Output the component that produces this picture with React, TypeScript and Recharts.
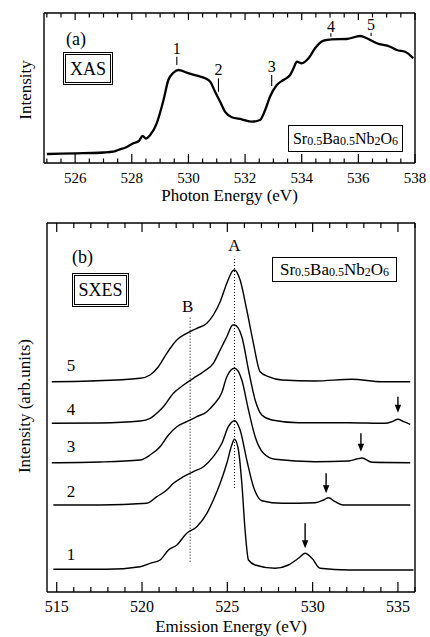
import React from 'react';
import { LineChart, Line, XAxis, YAxis, ReferenceLine, ReferenceDot } from 'recharts';

const FONT = "'Liberation Serif', 'Times New Roman', serif";

// ---- (a) XAS ----
const XAS_E = [
  525.0, 525.5, 526.06, 526.6, 527.0, 527.34, 527.52, 527.84, 528.05, 528.25, 528.38, 528.5, 528.65,
  528.88, 529.12, 529.29, 529.47, 529.65, 529.94, 530.3, 530.59, 530.77, 530.94, 531.12, 531.29,
  531.53, 531.88, 532.24, 532.53, 532.71, 532.88, 533.12, 533.35, 533.59, 533.71, 533.83, 534.0,
  534.24, 534.47, 534.77, 535.06, 535.59, 536.06, 536.3, 536.65, 537.12, 537.36, 537.65, 537.94,
];
const XAS_I = [
  9, 9.3, 9.7, 10, 10.5, 11.3, 13, 16.3, 19.7, 22, 27, 24.5, 28,
  39.7, 63, 83, 90.3, 93, 90.3, 87.3, 84.7, 81.3, 71.3, 61.3, 51.3,
  45.7, 43.7, 41.3, 43, 53, 66.3, 78, 83, 88, 94.7, 101.3, 99.7,
  104.7, 114.7, 122.3, 123.7, 124, 127, 124.7, 119.7, 116.3, 113, 111.3, 104.7,
];
const XAS_TICKS = [
  525, 525.5, 526, 526.5, 527, 527.5, 528, 528.5, 529, 529.5, 530, 530.5, 531, 531.5,
  532, 532.5, 533, 533.5, 534, 534.5, 535, 535.5, 536, 536.5, 537, 537.5, 538,
];
const XAS_MAJOR = [526, 528, 530, 532, 534, 536, 538];
// peak markers: label, energy, tick bottom/top, label centre
const MARK_LABEL = ['1', '2', '3', '4', '5'];
const MARK_E = [529.59, 531.06, 532.94, 535.03, 536.45];
const MARK_LO = [98, 71.3, 77, 126.3, 127];
const MARK_HI = [106.3, 84.7, 88, 129.7, 130.3];
const MARK_TXT = [114.7, 93.7, 96.3, 136.3, 139];

// ---- (b) SXES ----
const SX_TICKS = [515, 516, 517, 518, 519, 520, 521, 522, 523, 524, 525, 526, 527, 528, 529, 530, 531, 532, 533, 534, 535, 536];
const SX_MAJOR = [515, 520, 525, 530, 535];

const SX1_E = [514.8, 517.93, 519.89, 520.47, 521.06, 521.55, 522.04, 522.62, 523.21, 523.8, 524.18, 524.58, 524.97, 525.26, 525.42, 525.65, 525.85, 526.04, 526.24, 526.63, 527.8, 528.58, 529.17, 529.56, 529.96, 530.44, 532.1, 535.91];
const SX1_I = [22.7, 22.7, 25.3, 28.7, 32, 42, 47, 58.7, 65.3, 78.7, 92, 108.7, 128.7, 147, 152.7, 142, 108.7, 62, 32, 27, 23.7, 27, 33.7, 38.7, 33.7, 23.7, 22, 22];

const SX2_E = [514.8, 517.54, 520.28, 520.87, 521.45, 521.84, 522.43, 523.01, 523.6, 524.18, 524.68, 525.06, 525.42, 525.75, 526.14, 526.53, 527.02, 528.2, 530.15, 530.64, 530.93, 531.32, 531.81, 535.72];
const SX2_I = [87, 87, 88.7, 95.3, 102, 108.7, 115.3, 120.3, 125.3, 135.3, 148.7, 165.3, 171.3, 162, 132, 105.3, 91.3, 88.7, 89.3, 92, 94.3, 90.3, 87, 87];

const SX3_E = [514.71, 517.54, 519.89, 520.47, 521.06, 521.55, 522.04, 522.62, 523.21, 523.8, 524.18, 524.68, 524.97, 525.42, 525.85, 526.24, 526.63, 527.12, 527.8, 530.15, 532.1, 532.59, 532.89, 533.48, 535.72];
const SX3_I = [129.3, 130, 132, 137, 145.3, 157, 165.3, 170.3, 175.3, 180.3, 187, 199.5, 215.3, 223.7, 212, 182, 155.3, 138.7, 132.7, 130.3, 131, 133, 134, 129.7, 129.3];

const SX4_E = [514.71, 517.54, 519.89, 520.47, 520.96, 521.25, 521.84, 522.43, 523.01, 523.6, 524.18, 524.58, 524.97, 525.32, 525.42, 525.85, 526.24, 526.63, 527.02, 527.61, 529.17, 532.1, 534.26, 534.65, 535.0, 535.33, 535.72];
const SX4_I = [168.7, 169, 171, 173.7, 180.3, 185.3, 198.7, 207, 213.7, 220.3, 228.7, 242, 255.3, 267, 267, 255.3, 222, 192, 177, 172, 169.3, 169.3, 168.7, 170.3, 172.7, 170.3, 167.7];

const SX5_E = [514.71, 516.95, 519.89, 520.47, 520.96, 521.45, 522.04, 522.62, 523.21, 523.8, 524.18, 524.58, 524.97, 525.32, 525.42, 525.75, 526.14, 526.53, 526.92, 527.41, 528.2, 530.15, 532.3, 534.06, 535.72];
const SX5_I = [210.3, 211, 213.7, 217, 225.3, 238.7, 252, 258.7, 263.7, 268.7, 277, 290.3, 308.7, 321.3, 322, 312, 282, 248.7, 220.3, 215.3, 212, 211, 212.7, 210.3, 210.3];

const SX_LABEL = ['1', '2', '3', '4', '5'];
const SX_LABEL_E = 515.84;
const SX_LABEL_Y = [38, 101, 146, 183, 226.2];

// arrows on curves 1-4
const ARROW_E = [529.56, 530.79, 532.83, 535.0];
const ARROW_TOP = [68.7, 118.7, 158.7, 195.3];
const ARROW_TIP = [43.7, 98.7, 140.3, 179.3];

// dotted guides A and B
const GUIDE_LABEL = ['A', 'B'];
const GUIDE_E = [525.42, 522.82];
const GUIDE_TOP = [335.3, 275.3];
const GUIDE_BOT = [104, 30.3];
const GUIDE_TXT_E = [525.42, 522.68];
const GUIDE_TXT_Y = [347, 286];

const zip = (es: number[], is: number[]) => es.map((e, k) => ({ e, i: is[k] }));

const makeTick = (majors: number[], side: 'top' | 'bottom', majLen: number, minLen: number, fontSize: number, dy: number) =>
  (props: any) => {
    const { x, y, payload } = props;
    const major = majors.includes(payload.value);
    const len = major ? majLen : minLen;
    const dir = side === 'bottom' ? -1 : 1;
    return (
      <g>
        <line x1={x} x2={x} y1={y} y2={y + dir * len} stroke="#000" strokeWidth={1.2} />
        {side === 'bottom' && major ? (
          <text x={x} y={y + dy} textAnchor="middle" fontSize={fontSize} fontFamily={FONT} fill="#000">
            {payload.value}
          </text>
        ) : null}
      </g>
    );
  };

const textShape = (txt: string, size: number) => (p: any) => (
  <text x={p.cx} y={p.cy} textAnchor="middle" dominantBaseline="central" fontSize={size} fontFamily={FONT} fill="#000">
    {txt}
  </text>
);

const arrowHead = (p: any) => (
  <polygon points={`${p.cx},${p.cy} ${p.cx - 3.2},${p.cy - 8} ${p.cx + 3.2},${p.cy - 8}`} fill="#000" />
);

const Formula: React.FC = () => {
  const sub = { fontSize: 12, position: 'relative' as const, top: 1 };
  return (
    <span>
      Sr<span style={sub}>0.5</span>Ba<span style={sub}>0.5</span>Nb<span style={sub}>2</span>O<span style={sub}>6</span>
    </span>
  );
};

const abs = (left: number, top: number, extra: React.CSSProperties = {}): React.CSSProperties => ({
  position: 'absolute', left, top, fontFamily: FONT, color: '#000', lineHeight: 1, whiteSpace: 'nowrap', ...extra,
});

const frame = { stroke: '#000', strokeWidth: 1.4 };

export default function App() {
  const xas = zip(XAS_E, XAS_I);
  const sx = [zip(SX1_E, SX1_I), zip(SX2_E, SX2_I), zip(SX3_E, SX3_I), zip(SX4_E, SX4_I), zip(SX5_E, SX5_I)];

  // axes need a non-zero thickness to be drawn; the 1px is taken out of the margins
  return (
    <div style={{ position: 'relative', width: 430, height: 637, background: '#fff', overflow: 'hidden' }}>
      <style>{'body{margin:0}'}</style>

      {/* (a) XAS */}
      <div style={{ position: 'absolute', left: 0, top: 0 }}>
        <LineChart width={430} height={210} margin={{ top: 12, right: 14, bottom: 46, left: 43 }}>
          <XAxis dataKey="e" type="number" domain={[524.9, 538]} allowDataOverflow ticks={XAS_TICKS} interval={0}
            height={1} tickSize={0} tickMargin={0} tickLine={false} axisLine={frame}
            tick={makeTick(XAS_MAJOR, 'bottom', 9, 4.5, 15, 19.5)} />
          <XAxis xAxisId="top" orientation="top" dataKey="e" type="number" domain={[524.9, 538]} allowDataOverflow
            ticks={XAS_TICKS} interval={0} height={1} tickSize={0} tickMargin={0} tickLine={false} axisLine={frame}
            tick={makeTick(XAS_MAJOR, 'top', 7, 4.5, 15, 0)} />
          <YAxis type="number" domain={[0, 150]} width={1} tick={false} tickLine={false} axisLine={frame} />
          <YAxis yAxisId="r" orientation="right" type="number" domain={[0, 150]} width={1} tick={false} tickLine={false} axisLine={frame} />
          <Line data={xas} dataKey="i" type="monotone" stroke="#000" strokeWidth={2.3} dot={false} isAnimationActive={false} />
          {MARK_E.map((e, k) => (
            <ReferenceLine key={`m${k}`} segment={[{ x: e, y: MARK_LO[k] }, { x: e, y: MARK_HI[k] }]} stroke="#000" strokeWidth={1.1} />
          ))}
          {MARK_E.map((e, k) => (
            <ReferenceDot key={`t${k}`} x={e} y={MARK_TXT[k]} r={0} shape={textShape(MARK_LABEL[k], 16)} />
          ))}
        </LineChart>
      </div>
      <div style={abs(66, 30, { fontSize: 18 })}>(a)</div>
      <div style={abs(63, 52, { width: 50, height: 33, border: '3px double #000', boxSizing: 'border-box', fontSize: 18, display: 'flex', alignItems: 'center', justifyContent: 'center' })}>XAS</div>
      <div style={abs(288, 125, { width: 115, height: 27, border: '1px solid #000', boxSizing: 'border-box', fontSize: 16, display: 'flex', alignItems: 'center', justifyContent: 'center' })}><Formula /></div>
      <div style={abs(229.5, 195, { fontSize: 17, transform: 'translate(-50%, -50%)' })}>Photon Energy (eV)</div>
      <div style={abs(25, 90, { fontSize: 17, transform: 'translate(-50%, -50%) rotate(-90deg)' })}>Intensity</div>

      {/* (b) SXES */}
      <div style={{ position: 'absolute', left: 0, top: 210 }}>
        <LineChart width={430} height={427} margin={{ top: 12, right: 14, bottom: 44, left: 46 }}>
          <XAxis dataKey="e" type="number" domain={[514.43, 536]} allowDataOverflow ticks={SX_TICKS} interval={0}
            height={1} tickSize={0} tickMargin={0} tickLine={false} axisLine={frame}
            tick={makeTick(SX_MAJOR, 'bottom', 10, 5, 16, 20)} />
          <XAxis xAxisId="top" orientation="top" dataKey="e" type="number" domain={[514.43, 536]} allowDataOverflow
            ticks={SX_TICKS} interval={0} height={1} tickSize={0} tickMargin={0} tickLine={false} axisLine={frame}
            tick={makeTick(SX_MAJOR, 'top', 9, 5, 16, 0)} />
          <YAxis type="number" domain={[0, 369]} width={1} tick={false} tickLine={false} axisLine={frame} />
          <YAxis yAxisId="r" orientation="right" type="number" domain={[0, 369]} width={1} tick={false} tickLine={false} axisLine={frame} />
          {sx.map((d, k) => (
            <Line key={`s${k}`} data={d} dataKey="i" type="monotone" stroke="#000" strokeWidth={1.4} dot={false} isAnimationActive={false} />
          ))}
          {GUIDE_E.map((e, k) => (
            <ReferenceLine key={`g${k}`} segment={[{ x: e, y: GUIDE_BOT[k] }, { x: e, y: GUIDE_TOP[k] }]} stroke="#000" strokeWidth={1} strokeDasharray="1 2" />
          ))}
          {GUIDE_LABEL.map((t, k) => (
            <ReferenceDot key={`gl${k}`} x={GUIDE_TXT_E[k]} y={GUIDE_TXT_Y[k]} r={0} shape={textShape(t, 17)} />
          ))}
          {SX_LABEL.map((t, k) => (
            <ReferenceDot key={`sl${k}`} x={SX_LABEL_E} y={SX_LABEL_Y[k]} r={0} shape={textShape(t, 17)} />
          ))}
          {ARROW_E.map((e, k) => (
            <ReferenceLine key={`a${k}`} segment={[{ x: e, y: ARROW_TIP[k] + 6 }, { x: e, y: ARROW_TOP[k] }]} stroke="#000" strokeWidth={1.4} />
          ))}
          {ARROW_E.map((e, k) => (
            <ReferenceDot key={`ah${k}`} x={e} y={ARROW_TIP[k]} r={0} shape={arrowHead} />
          ))}
        </LineChart>
      </div>
      <div style={abs(72, 248, { fontSize: 18 })}>(b)</div>
      <div style={abs(72, 273, { width: 57, height: 34, border: '3px double #000', boxSizing: 'border-box', fontSize: 18, display: 'flex', alignItems: 'center', justifyContent: 'center' })}>SXES</div>
      <div style={abs(272, 257, { width: 125, height: 25, border: '1px solid #000', boxSizing: 'border-box', fontSize: 17, display: 'flex', alignItems: 'center', justifyContent: 'center' })}><Formula /></div>
      <div style={abs(231, 626, { fontSize: 17, transform: 'translate(-50%, -50%)' })}>Emission Energy (eV)</div>
      <div style={abs(24, 406, { fontSize: 17, transform: 'translate(-50%, -50%) rotate(-90deg)' })}>Intensity (arb.units)</div>
    </div>
  );
}
